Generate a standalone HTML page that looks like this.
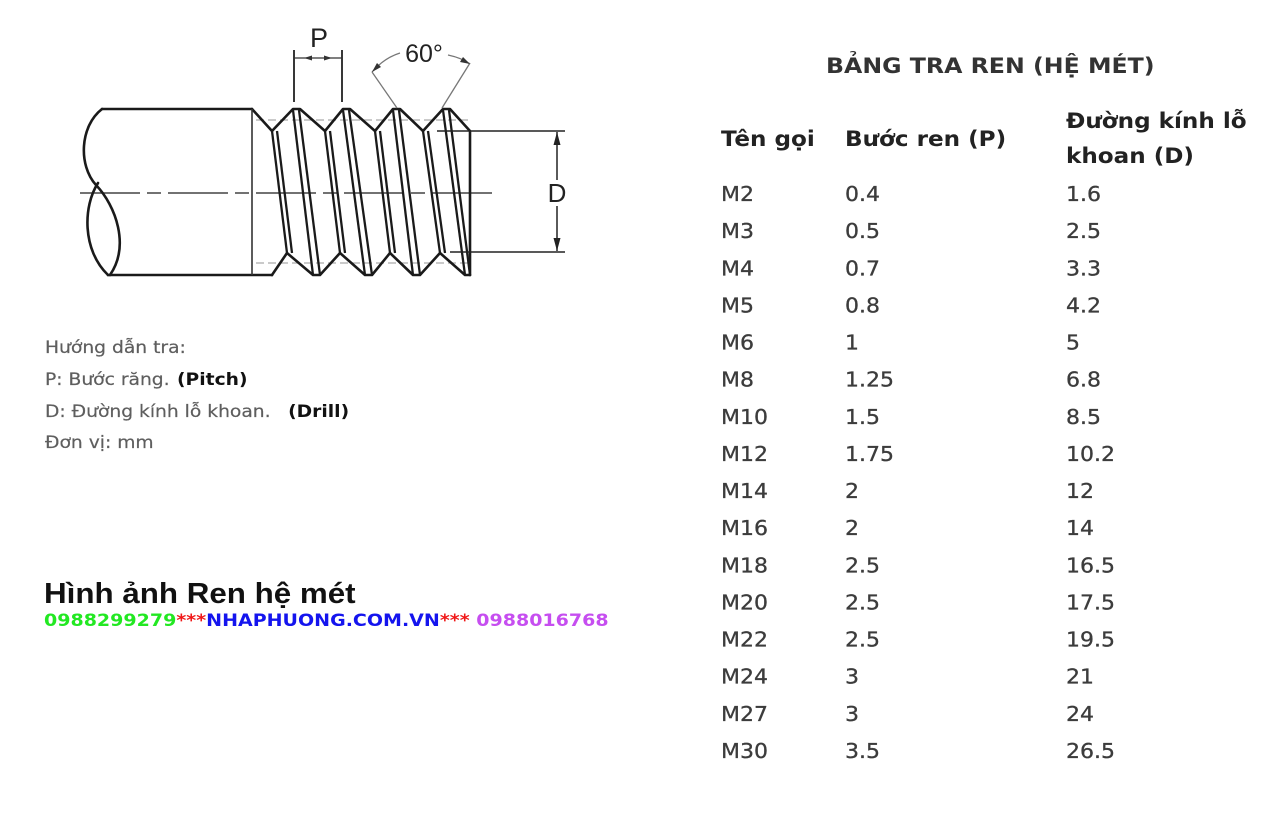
<!DOCTYPE html>
<html><head><meta charset="utf-8"><style>
html,body{margin:0;padding:0;background:#fff;}
svg{display:block;}
.dv{font-family:"DejaVu Sans","Liberation Sans",sans-serif;}
</style></head><body>
<svg width="1280" height="819" viewBox="0 0 1280 819" xmlns="http://www.w3.org/2000/svg">
<rect width="1280" height="819" fill="#fff"/>

<!-- ===== Thread drawing ===== -->
<line x1="80" y1="193" x2="498" y2="193" stroke="#444" stroke-width="1.4" stroke-dasharray="60,7,14,7"/>
<line x1="256" y1="120" x2="472" y2="120" stroke="#aaa" stroke-width="1.3" stroke-dasharray="8,4"/>
<line x1="256" y1="263" x2="472" y2="263" stroke="#aaa" stroke-width="1.3" stroke-dasharray="8,4"/>

<g fill="none" stroke="#1a1a1a" stroke-width="2.6" stroke-linejoin="round" stroke-linecap="round">
  <line x1="102" y1="109" x2="252" y2="109"/>
  <line x1="108" y1="275" x2="272" y2="275"/>
  <path d="M102,109 C80,126 78,165 96,185 C116,206 130,246 110,275"/>
  <path d="M98,183 C83,206 82,250 108,275"/>
  <path d="M252,109 L272,131 L293,109 L300,109 L325,131 L343,109 L350,109 L375,131 L393,109 L400,109 L423,131 L443,109 L450,109 L470,131 L470,275"/>
  <path d="M272,275 L287,253 L313,275 L320,275 L340,253 L365,275 L372,275 L390,253 L413,275 L420,275 L440,253 L465,275 L470,275"/>
</g>
<line x1="252" y1="109" x2="252" y2="275" stroke="#333" stroke-width="1.6"/>

<g stroke="#1a1a1a" stroke-width="2.3">
  <line x1="272" y1="131" x2="287" y2="253"/><line x1="277" y1="131" x2="292" y2="253"/>
  <line x1="293" y1="110" x2="313" y2="275"/><line x1="299" y1="110" x2="320" y2="275"/>
  <line x1="325" y1="131" x2="340" y2="253"/><line x1="330" y1="131" x2="345" y2="253"/>
  <line x1="343" y1="110" x2="365" y2="275"/><line x1="349" y1="110" x2="372" y2="275"/>
  <line x1="375" y1="131" x2="390" y2="253"/><line x1="380" y1="131" x2="395" y2="253"/>
  <line x1="393" y1="110" x2="413" y2="275"/><line x1="399" y1="110" x2="420" y2="275"/>
  <line x1="423" y1="131" x2="440" y2="253"/><line x1="428" y1="131" x2="445" y2="253"/>
  <line x1="443" y1="110" x2="465" y2="275"/><line x1="449" y1="110" x2="470" y2="275"/>
</g>

<!-- D dimension -->
<g stroke="#222" stroke-width="1.5">
  <line x1="437" y1="131" x2="565" y2="131"/>
  <line x1="450" y1="252" x2="565" y2="252"/>
  <line x1="557" y1="132" x2="557" y2="251"/>
</g>
<polygon points="557,132 553.5,145 560.5,145" fill="#222"/>
<polygon points="557,251 553.5,238 560.5,238" fill="#222"/>
<rect x="546" y="180" width="22" height="26" fill="#fff"/>
<text x="557" y="202" text-anchor="middle" font-family="Liberation Sans, sans-serif" font-size="26" fill="#222">D</text>

<!-- P dimension -->
<g stroke="#222" stroke-width="1.8">
  <line x1="294" y1="50" x2="294" y2="102"/>
  <line x1="342" y1="50" x2="342" y2="102"/>
</g>
<line x1="294" y1="58" x2="342" y2="58" stroke="#333" stroke-width="1.2"/>
<polygon points="304,58 312,55.5 312,60.5" fill="#333"/>
<polygon points="332,58 324,55.5 324,60.5" fill="#333"/>
<text x="319" y="47" text-anchor="middle" font-family="Liberation Sans, sans-serif" font-size="27" fill="#222">P</text>

<!-- 60 degree -->
<g stroke="#777" stroke-width="1.3" fill="none">
  <line x1="397" y1="108" x2="372" y2="72"/>
  <line x1="442" y1="108" x2="470" y2="63"/>
  <path d="M372,72 Q384,58 400,53"/>
  <path d="M448,55 Q462,58 470,64"/>
</g>
<polygon points="372,72 377,63 381,67" fill="#333"/>
<polygon points="470,64 460,62 463,57" fill="#333"/>
<text x="424" y="62" text-anchor="middle" font-family="Liberation Sans, sans-serif" font-size="25" fill="#222">60°</text>

<!-- ===== Left notes ===== -->
<g class="dv" font-size="17" fill="#5e5e5e" stroke="#5e5e5e" stroke-width="0.2">
  <text transform="translate(45,353) scale(1.1,1)">Hướng dẫn tra:</text>
  <text transform="translate(45,385) scale(1.1,1)">P: Bước răng.<tspan x="120" font-weight="bold" fill="#111" stroke="none">(Pitch)</tspan></text>
  <text transform="translate(45,417) scale(1.1,1)">D: Đường kính lỗ khoan.<tspan x="221" font-weight="bold" fill="#111" stroke="none">(Drill)</tspan></text>
  <text transform="translate(45,448) scale(1.1,1)">Đơn vị: mm</text>
</g>

<text transform="translate(44,603) scale(1.1,1)" font-family="Liberation Sans, sans-serif" font-weight="bold" font-size="28.5" fill="#111">Hình ảnh Ren hệ mét</text>
<text class="dv" transform="translate(44,626) scale(1.1,1)" font-weight="bold" font-size="17.3"><tspan fill="#22e822">0988299279</tspan><tspan fill="#f01818">***</tspan><tspan fill="#1414ee">NHAPHUONG.COM.VN</tspan><tspan fill="#f01818">***</tspan><tspan fill="#c64ef0"> 0988016768</tspan></text>

<!-- ===== Table ===== -->
<text class="dv" transform="translate(826,73) scale(1.1,1)" font-weight="bold" font-size="21.5" fill="#333">BẢNG TRA REN (HỆ MÉT)</text>
<g class="dv" font-weight="bold" font-size="21" fill="#222">
  <text transform="translate(721,146) scale(1.1,1)">Tên gọi</text>
  <text transform="translate(845,146) scale(1.1,1)">Bước ren (P)</text>
  <text transform="translate(1066,128) scale(1.1,1)">Đường kính lỗ</text>
  <text transform="translate(1066,163) scale(1.1,1)">khoan (D)</text>
</g>

<g class="dv" font-size="20" fill="#3c3c3c" stroke="#3c3c3c" stroke-width="0.3">
 <g transform="translate(721,0) scale(1.1,1)">
  <text y="201">M2</text><text y="238.1">M3</text><text y="275.3">M4</text><text y="312.4">M5</text>
  <text y="349.5">M6</text><text y="386.7">M8</text><text y="423.8">M10</text><text y="460.9">M12</text>
  <text y="498">M14</text><text y="535.2">M16</text><text y="572.3">M18</text><text y="609.4">M20</text>
  <text y="646.6">M22</text><text y="683.7">M24</text><text y="720.8">M27</text><text y="758">M30</text>
 </g>
 <g transform="translate(845,0) scale(1.1,1)">
  <text y="201">0.4</text><text y="238.1">0.5</text><text y="275.3">0.7</text><text y="312.4">0.8</text>
  <text y="349.5">1</text><text y="386.7">1.25</text><text y="423.8">1.5</text><text y="460.9">1.75</text>
  <text y="498">2</text><text y="535.2">2</text><text y="572.3">2.5</text><text y="609.4">2.5</text>
  <text y="646.6">2.5</text><text y="683.7">3</text><text y="720.8">3</text><text y="758">3.5</text>
 </g>
 <g transform="translate(1066,0) scale(1.1,1)">
  <text y="201">1.6</text><text y="238.1">2.5</text><text y="275.3">3.3</text><text y="312.4">4.2</text>
  <text y="349.5">5</text><text y="386.7">6.8</text><text y="423.8">8.5</text><text y="460.9">10.2</text>
  <text y="498">12</text><text y="535.2">14</text><text y="572.3">16.5</text><text y="609.4">17.5</text>
  <text y="646.6">19.5</text><text y="683.7">21</text><text y="720.8">24</text><text y="758">26.5</text>
 </g>
</g>
</svg>
</body></html>
